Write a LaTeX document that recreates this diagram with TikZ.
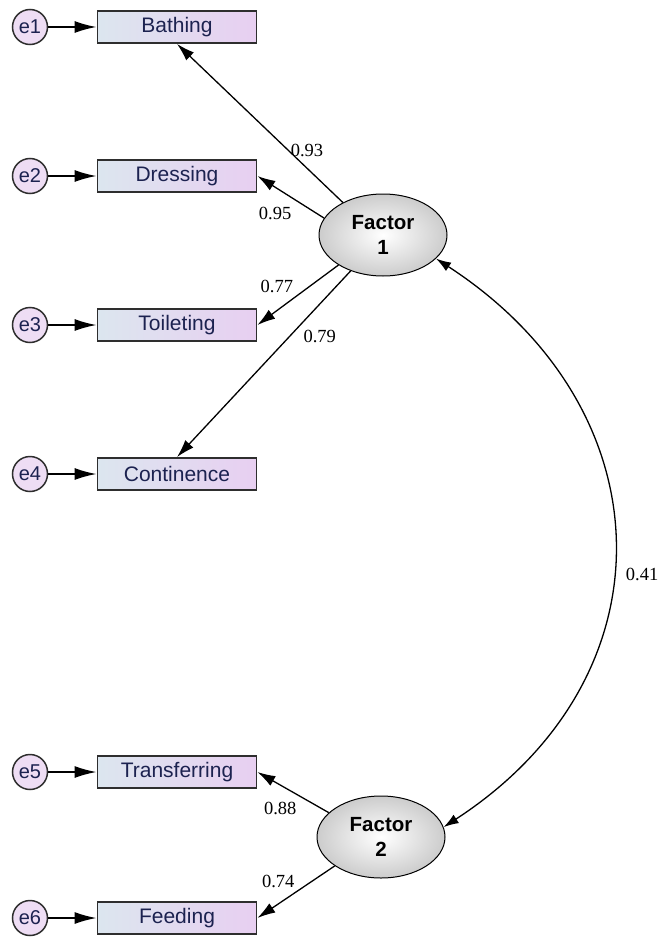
\documentclass[tikz,border=0pt]{standalone}
\usepackage{fontspec}
\setmainfont{Liberation Serif}
\setsansfont{Liberation Sans}
\usetikzlibrary{arrows.meta,shapes.geometric}
\definecolor{boxleft}{HTML}{DCE6EF}
\definecolor{boxright}{HTML}{E8CFF1}
\definecolor{errfill}{HTML}{EEDDF4}
\definecolor{boxtext}{HTML}{1C2250}
\definecolor{rim}{HTML}{2E2E2E}

\begin{document}
\begin{tikzpicture}[x=1pt,y=1pt,semithick,
    item/.style={draw=rim,line width=1.8pt,rectangle,minimum width=159pt,minimum height=32pt,inner sep=0pt,
        left color=boxleft,right color=boxright,text=boxtext,font=\sffamily\fontsize{21}{24}\selectfont},
    err/.style={draw=rim,line width=1.5pt,circle,minimum size=35pt,inner sep=0pt,fill=errfill,
        text=boxtext,font=\sffamily\fontsize{20}{22}\selectfont},
    factor/.style={draw=black,line width=1pt,ellipse,minimum width=128pt,minimum height=82pt,inner sep=0pt,
        inner color=white,outer color=gray!40,align=center,font=\sffamily\bfseries\fontsize{20.5}{25}\selectfont},
    load/.style={->,>={Latex[length=18pt,width=11pt]},line width=1.3pt},
    earrow/.style={->,>={Latex[length=22pt,width=12pt]},line width=1.8pt},
    cov/.style={<->,>={Latex[length=15pt,width=10pt]},line width=1.3pt},
    weight/.style={inner sep=0pt,font=\fontsize{18.5}{20}\selectfont}]
\useasboundingbox (0,0) rectangle (666,-939);
% observed items
\node[item] at (177,-27) (bath) {Bathing};
\node[item] at (177,-176) (dress) {Dressing};
\node[item] at (177,-325) (toil) {Toileting};
\node[item] at (177,-474) (cont) {Continence};
\node[item] at (177,-772) (trans) {Transferring};
\node[item] at (177,-918) (feed) {Feeding};
% error terms
\node[err] at (30,-27) (e1) {e1};
\node[err] at (30,-176) (e2) {e2};
\node[err] at (30,-325) (e3) {e3};
\node[err] at (30,-474) (e4) {e4};
\node[err] at (30,-772) (e5) {e5};
\node[err] at (30,-918) (e6) {e6};
% latent factors
\node[factor] at (383,-235) (f1) {Factor\\1};
\node[factor] at (381,-837) (f2) {Factor\\2};
\path[earrow]
    (e1) edge (bath)
    (e2) edge (dress)
    (e3) edge (toil)
    (e4) edge (cont)
    (e5) edge (trans)
    (e6) edge (feed);
\path[load]
    (f1.141) edge node[weight,pos=.33,right=2pt] (w1) {0.93} (bath.south)
    (f1.164) edge node[weight,pos=.735,below=19pt] (w2) {0.95} (dress.east)
    (f1.214) edge node[weight,pos=.76,above=17pt] (w3) {0.77} (toil.east)
    (f1.228) edge node[weight,pos=.35,right=13pt] (w4) {0.79} (cont.north)
    (f2.155) edge node[weight,pos=.68,below=17pt] (w5) {0.88} (trans.east)
    (f2.212) edge node[weight,pos=.73,above=16pt] (w6) {0.74} (feed.east);
\draw[cov] (f1.-24) to[out=-33,in=33,looseness=1.24] node[weight,pos=.55,right=13pt] (w7) {0.41} (f2.9);
\end{tikzpicture}
\end{document}
